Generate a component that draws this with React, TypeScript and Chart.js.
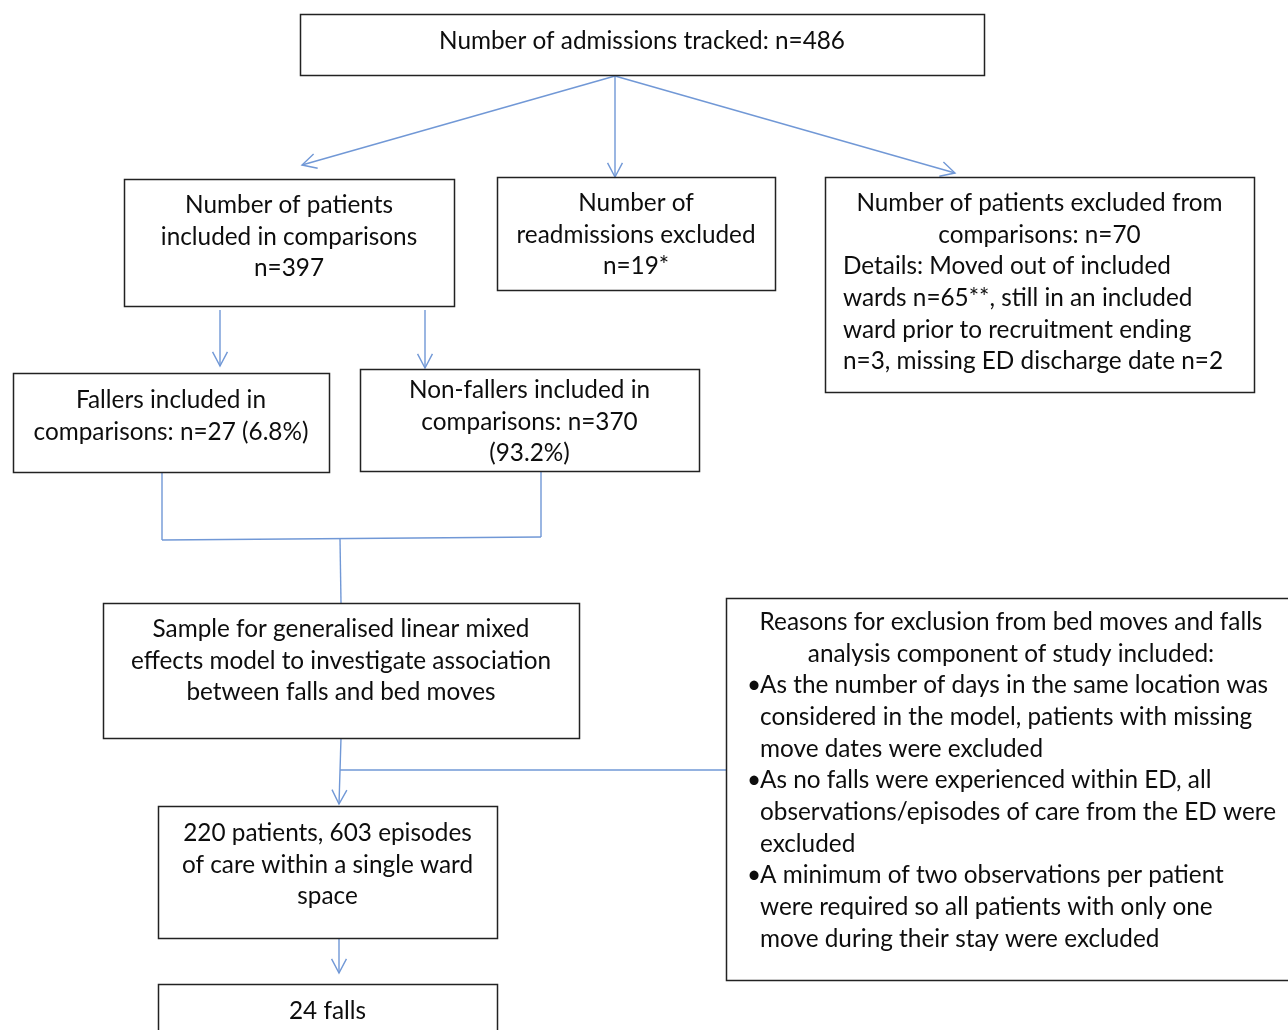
import React, { useEffect, useRef } from "react";
import { Chart, registerables } from "chart.js";

Chart.register(...registerables);

// ---- content ----
const boxTexts: string[][] = [
  ["Number of admissions tracked: n=486"],
  ["Number of patients", "included in comparisons", "n=397"],
  ["Number of", "readmissions excluded", "n=19*"],
  [
    "Number of patients excluded from",
    "comparisons: n=70",
    "Details: Moved out of included",
    "wards n=65**, still in an included",
    "ward prior to recruitment ending",
    "n=3, missing ED discharge date n=2",
  ],
  ["Fallers included in", "comparisons: n=27 (6.8%)"],
  ["Non-fallers included in", "comparisons: n=370", "(93.2%)"],
  ["Sample for generalised linear mixed", "effects model to investigate association", "between falls and bed moves"],
  [
    "Reasons for exclusion from bed moves and falls",
    "analysis component of study included:",
    "•As the number of days in the same location was",
    " considered in the model, patients with missing",
    " move dates were excluded",
    "•As no falls were experienced within ED, all",
    " observations/episodes of care from the ED were",
    " excluded",
    "•A minimum of two observations per patient",
    " were required so all patients with only one",
    " move during their stay were excluded",
  ],
  ["220 patients, 603 episodes", "of care within a single ward", "space"],
  ["24 falls"],
];

// ---- layout (pixel-like units on hidden linear axes) ----
const boxRects: number[][] = [
  [300, 14, 984, 75],
  [124, 179, 454, 306],
  [497, 177, 775, 290],
  [825, 177, 1254, 392],
  [13, 373, 329, 472],
  [360, 369, 699, 471],
  [103, 603, 579, 738],
  [726, 598, 1295, 980],
  [158, 806, 497, 938],
  [158, 984, 497, 1040],
];
// first line center y, and number of centered lines (rest left-aligned at leftX)
const textStartY = [41, 205, 203, 203, 400, 390, 629, 622, 833, 1011];
const centeredCount = [1, 3, 3, 2, 2, 3, 3, 2, 3, 1];
const leftX = [0, 0, 0, 843, 0, 0, 0, 747, 0, 0];
const lineGap = 31.7;

// connectors: x0, y0, x1, y1, arrowhead(1/0)
const connectors: number[][] = [
  [615, 76, 302, 165, 1],
  [615, 76, 615, 177, 1],
  [615, 76, 955, 173, 1],
  [220, 310, 220, 366, 1],
  [425, 310, 425, 368, 1],
  [162, 472, 162, 540, 0],
  [541, 472, 541, 537, 0],
  [162, 540, 541, 537, 0],
  [340, 539, 341, 603, 0],
  [341, 738, 339, 804, 1],
  [340, 770, 726, 770, 0],
  [339, 938, 339, 973, 1],
];

const LINE_COLOR = "#7198d6";
const FONT_FAMILY = "Lato, 'Open Sans', sans-serif";

function arrowHeads(): { x: number; y: number }[][] {
  const out: { x: number; y: number }[][] = [];
  connectors.forEach((c) => {
    if (!c[4]) return;
    const ang = Math.atan2(c[3] - c[1], c[2] - c[0]);
    const len = 16;
    const spread = Math.PI / 6.5;
    out.push([
      { x: c[2] - len * Math.cos(ang - spread), y: c[3] - len * Math.sin(ang - spread) },
      { x: c[2], y: c[3] },
      { x: c[2] - len * Math.cos(ang + spread), y: c[3] - len * Math.sin(ang + spread) },
    ]);
  });
  return out;
}

const boxPlugin = {
  id: "flowBoxes",
  afterDatasetsDraw(chart: any) {
    const { ctx, scales } = chart;
    const sx = (v: number) => scales.x.getPixelForValue(v);
    const sy = (v: number) => scales.y.getPixelForValue(v);
    ctx.save();
    ctx.font = `100px ${FONT_FAMILY}`;
    const w100 = ctx.measureText(boxTexts[0][0]).width;
    const size = (100 * (sx(845) - sx(439))) / w100;
    ctx.font = `${size}px ${FONT_FAMILY}`;
    ctx.fillStyle = "#0d0d0d";
    ctx.textBaseline = "middle";
    boxRects.forEach((r, i) => {
      ctx.strokeStyle = "#222";
      ctx.lineWidth = 1.5;
      ctx.strokeRect(sx(r[0]) + 0.5, sy(r[1]) + 0.5, sx(r[2]) - sx(r[0]), sy(r[3]) - sy(r[1]));
      const cx = (r[0] + r[2]) / 2;
      boxTexts[i].forEach((line, j) => {
        const y = sy(textStartY[i] + j * lineGap);
        if (j < centeredCount[i]) {
          ctx.textAlign = "center";
          ctx.fillText(line, sx(i === 7 ? 1011 : cx), y);
        } else {
          ctx.textAlign = "left";
          if (line.startsWith("•")) {
            ctx.fillText("•", sx(leftX[i]), y);
            ctx.fillText(line.slice(1), sx(760), y);
          } else if (i === 7) {
            ctx.fillText(line.trim(), sx(760), y);
          } else {
            ctx.fillText(line.trim(), sx(leftX[i]), y);
          }
        }
      });
    });
    ctx.restore();
  },
};

export default function App() {
  const ref = useRef<HTMLCanvasElement | null>(null);
  useEffect(() => {
    document.body.style.margin = "0";
    const lineSets = connectors.map((c) => ({
      data: [
        { x: c[0], y: c[1] },
        { x: c[2], y: c[3] },
      ],
      showLine: true,
      borderColor: LINE_COLOR,
      borderWidth: 1.4,
      pointRadius: 0,
      fill: false,
    }));
    const headSets = arrowHeads().map((pts) => ({
      data: pts,
      showLine: true,
      borderColor: LINE_COLOR,
      borderWidth: 1.4,
      pointRadius: 0,
      fill: false,
    }));
    const chart = new Chart(ref.current as HTMLCanvasElement, {
      type: "scatter",
      data: { datasets: [...lineSets, ...headSets] as any },
      options: {
        animation: false,
        responsive: false,
        maintainAspectRatio: false,
        devicePixelRatio: window.devicePixelRatio || 1,
        layout: { padding: 0 },
        plugins: { legend: { display: false }, tooltip: { enabled: false } },
        scales: {
          x: { type: "linear", min: 0, max: 1288, display: false },
          y: { type: "linear", min: 0, max: 1030, reverse: true, display: false },
        },
      },
      plugins: [boxPlugin],
    });
    return () => chart.destroy();
  }, []);
  return (
    <div style={{ position: "absolute", left: 0, top: 0, width: 1288, height: 1030, background: "#fff" }}>
      <canvas ref={ref} width={1288} height={1030} style={{ width: 1288, height: 1030 }} />
    </div>
  );
}
